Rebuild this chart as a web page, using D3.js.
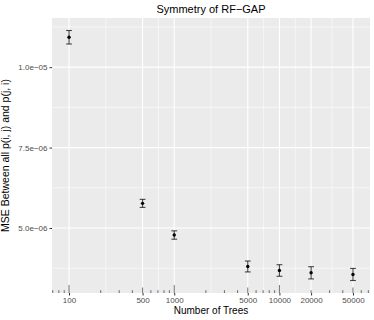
<!DOCTYPE html>
<html><head><meta charset="utf-8">
<script src="https://cdn.jsdelivr.net/npm/d3@7"></script>
<style>body{margin:0;background:#fff}svg{display:block;font-family:"Liberation Sans",Arial,sans-serif}</style>
</head><body><svg id="c" width="374" height="320"></svg>
<script>
const trees = [100, 500, 1000, 5000, 10000, 20000, 50000];
const mse   = [1.093e-5, 5.766e-6, 4.782e-6, 3.804e-6, 3.679e-6, 3.607e-6, 3.555e-6];
const errHalf = [0.21e-6, 0.125e-6, 0.13e-6, 0.17e-6, 0.18e-6, 0.19e-6, 0.187e-6];
const xTicks = [100, 500, 1000, 5000, 10000, 20000, 50000];
const yTicks = [5e-6, 7.5e-6, 1e-5];
const yTickLabels = ["5.0e\u221206", "7.5e\u221206", "1.0e\u221205"];
const title = "Symmetry of RF\u2212GAP";
const xTitle = "Number of Trees";
const yTitle = "MSE Between all p(i, j) and p(j, i)";

const W = 374, H = 320;
const P = {l: 52, r: 370, t: 18, b: 293};
const svg = d3.select("#c");

const lx0 = Math.log10(d3.min(trees)), lx1 = Math.log10(d3.max(trees));
const ex = (lx1 - lx0) * 0.06;
const x = d3.scaleLog().domain([Math.pow(10, lx0 - ex), Math.pow(10, lx1 + ex)]).range([P.l, P.r]);

const lo = d3.min(mse.map((v, i) => v - errHalf[i]));
const hi = d3.max(mse.map((v, i) => v + errHalf[i]));
const ey = (hi - lo) * 0.05;
const y = d3.scaleLinear().domain([lo - ey, hi + ey]).range([P.b, P.t]);

svg.append("rect").attr("x", P.l).attr("y", P.t).attr("width", P.r - P.l).attr("height", P.b - P.t).attr("fill", "#EBEBEB");

const g = svg.append("g");
const yMinor = [];
for (let i = 0; i < yTicks.length - 1; i++) yMinor.push((yTicks[i] + yTicks[i + 1]) / 2);
yMinor.push(yTicks[0] - (yTicks[1] - yTicks[0]) / 2);
yMinor.push(yTicks[yTicks.length - 1] + (yTicks[1] - yTicks[0]) / 2);
yMinor.filter(v => v > y.domain()[0] && v < y.domain()[1]).forEach(v => {
  g.append("line").attr("x1", P.l).attr("x2", P.r).attr("y1", y(v)).attr("y2", y(v)).attr("stroke", "#fff").attr("stroke-width", 0.55);
});
const xMinor = [];
for (let i = 0; i < xTicks.length - 1; i++) xMinor.push(Math.sqrt(xTicks[i] * xTicks[i + 1]));
xMinor.forEach(v => {
  g.append("line").attr("y1", P.t).attr("y2", P.b).attr("x1", x(v)).attr("x2", x(v)).attr("stroke", "#fff").attr("stroke-width", 0.55);
});
yTicks.forEach(v => {
  g.append("line").attr("x1", P.l).attr("x2", P.r).attr("y1", y(v)).attr("y2", y(v)).attr("stroke", "#fff").attr("stroke-width", 1.1);
});
xTicks.forEach(v => {
  g.append("line").attr("y1", P.t).attr("y2", P.b).attr("x1", x(v)).attr("x2", x(v)).attr("stroke", "#fff").attr("stroke-width", 1.1);
});

const [d0, d1] = x.domain();
const lt = svg.append("g");
for (let e = Math.floor(Math.log10(d0)); e <= Math.ceil(Math.log10(d1)); e++) {
  for (let m = 1; m <= 9; m++) {
    const v = m * Math.pow(10, e);
    if (v < d0 || v > d1) continue;
    const len = m === 1 ? 8 : (m === 5 ? 5.5 : 2.8);
    lt.append("line").attr("x1", x(v)).attr("x2", x(v)).attr("y1", P.b).attr("y2", P.b - len)
      .attr("stroke", "#000").attr("stroke-width", 0.55);
  }
}

const eb = svg.append("g").attr("stroke", "#000").attr("stroke-opacity", 0.7).attr("stroke-width", 1.1);
const capHalf = 2.9;
trees.forEach((t, i) => {
  const cx = x(t), y1 = y(mse[i] + errHalf[i]), y2 = y(mse[i] - errHalf[i]);
  eb.append("line").attr("x1", cx).attr("x2", cx).attr("y1", y1).attr("y2", y2);
  eb.append("line").attr("x1", cx - capHalf).attr("x2", cx + capHalf).attr("y1", y1).attr("y2", y1);
  eb.append("line").attr("x1", cx - capHalf).attr("x2", cx + capHalf).attr("y1", y2).attr("y2", y2);
});
svg.append("g").selectAll("circle").data(trees).join("circle")
  .attr("cx", d => x(d)).attr("cy", (d, i) => y(mse[i])).attr("r", 1.7).attr("fill", "#000");

const xa = svg.append("g").attr("transform", `translate(0,${P.b})`)
  .call(d3.axisBottom(x).tickValues(xTicks).tickFormat(d3.format("d")).tickSize(2.5).tickPadding(2));
const ya = svg.append("g").attr("transform", `translate(${P.l},0)`)
  .call(d3.axisLeft(y).tickValues(yTicks).tickFormat((d, i) => yTickLabels[i]).tickSize(2.5).tickPadding(2));
[xa, ya].forEach(a => {
  a.select(".domain").remove();
  a.selectAll(".tick line").attr("stroke", "#333").attr("stroke-width", 1);
  a.selectAll(".tick text").attr("fill", "#4D4D4D").attr("font-size", 8).attr("font-family", '"Liberation Sans",Arial,sans-serif');
});

svg.append("text").attr("x", (P.l + P.r) / 2).attr("y", 13).attr("text-anchor", "middle").attr("font-size", 11).attr("fill", "#000").text(title);
svg.append("text").attr("x", (P.l + P.r) / 2).attr("y", 314).attr("text-anchor", "middle").attr("font-size", 10).attr("fill", "#000").text(xTitle);
svg.append("text").attr("transform", `translate(9,${(P.t + P.b) / 2}) rotate(-90)`).attr("text-anchor", "middle").attr("font-size", 10.5).attr("fill", "#000").text(yTitle);
</script></body></html>
